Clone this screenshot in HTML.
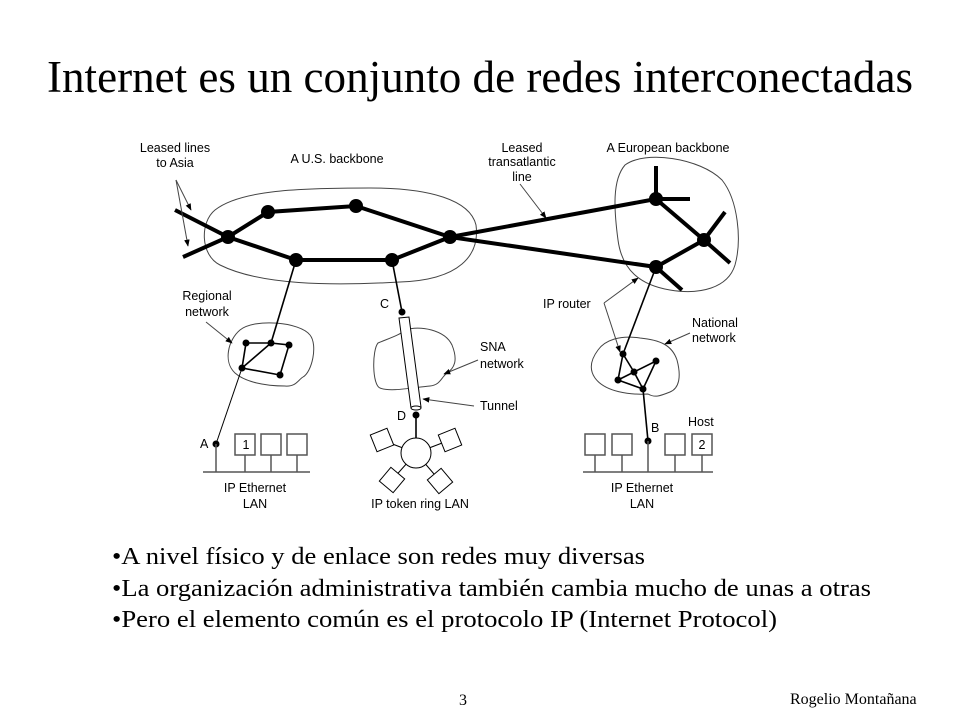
<!DOCTYPE html>
<html><head><meta charset="utf-8"><style>
html,body{margin:0;padding:0;background:#fff}
svg{display:block}
.s{font-family:"Liberation Sans",sans-serif;font-size:12.5px;fill:#000}
.t{font-family:"Liberation Serif","Times New Roman",serif;fill:#000}
</style></head><body>
<svg width="960" height="720" viewBox="0 0 960 720" xmlns="http://www.w3.org/2000/svg">
<defs>
<marker id="a" viewBox="0 0 10 10" refX="9" refY="5" markerWidth="7" markerHeight="7" orient="auto"><path d="M0,1 L10,5 L0,9 z" fill="#000"/></marker>
</defs>
<text class="t" x="47" y="92" font-size="45" textLength="866" lengthAdjust="spacingAndGlyphs">Internet es un conjunto de redes interconectadas</text>

<g fill="none" stroke="#444" stroke-width="1">
<path d="M215,210 C240,190 300,188 370,188 C430,188 470,200 476,225 C480,255 460,280 400,282 C330,286 260,285 220,265 C200,255 200,222 215,210 Z"/>
<path d="M625,165 C645,150 700,158 722,180 C738,200 742,240 735,265 C728,288 700,295 670,290 C640,285 622,270 618,240 C614,210 612,180 625,165 Z"/>
<path d="M240,330 C255,318 300,322 310,335 C318,345 312,372 303,377 C298,380 296,387 285,386 C265,386 245,382 235,373 C223,362 228,340 240,330 Z"/>
<path d="M378,343 C390,338 400,335 405,330 C420,325 445,330 452,345 C458,360 455,368 446,374 C441,378 440,385 430,386 C410,388 390,392 380,388 C372,385 372,350 378,343 Z"/>
<path d="M598,350 C605,340 620,335 640,338 C660,340 672,345 677,360 C681,375 680,388 670,392 C660,396 655,398 648,394 C630,395 605,392 595,378 C588,368 592,358 598,350 Z"/>
</g>

<g stroke="#000" stroke-width="4" fill="none" stroke-linecap="butt">
<polyline points="175,210 228,237 296,260 392,260 450,237 356,206 268,212 228,237 183,257"/>
<line x1="450" y1="237" x2="656" y2="199"/>
<line x1="450" y1="237" x2="656" y2="267"/>
<polyline points="656,199 704,240 656,267"/>
<line x1="656" y1="199" x2="656" y2="166"/>
<line x1="656" y1="199" x2="690" y2="199"/>
<line x1="704" y1="240" x2="725" y2="212"/>
<line x1="704" y1="240" x2="730" y2="263"/>
<line x1="656" y1="267" x2="682" y2="290"/>
</g>
<g fill="#000">
<circle cx="228" cy="237" r="7"/><circle cx="268" cy="212" r="7"/><circle cx="356" cy="206" r="7"/>
<circle cx="450" cy="237" r="7"/><circle cx="392" cy="260" r="7"/><circle cx="296" cy="260" r="7"/>
<circle cx="656" cy="199" r="7"/><circle cx="704" cy="240" r="7"/><circle cx="656" cy="267" r="7"/>
</g>

<g stroke="#000" stroke-width="1.6" fill="none">
<line x1="296" y1="260" x2="271" y2="343"/>
<polyline points="246,343 271,343 289,345 280,375 242,368 246,343"/>
<line x1="242" y1="368" x2="271" y2="343"/>
<line x1="392" y1="260" x2="402" y2="312"/>
<line x1="416" y1="415" x2="416" y2="438"/>
<line x1="656" y1="267" x2="623" y2="354"/>
<polyline points="623,354 618,380 643,389 656,361 634,372 623,354"/>
<line x1="618" y1="380" x2="634" y2="372"/>
<line x1="634" y1="372" x2="643" y2="389"/>
<line x1="643" y1="389" x2="648" y2="441"/>
</g>
<line x1="242" y1="368" x2="216" y2="444" stroke="#000" stroke-width="1"/>
<g fill="#000">
<circle cx="246" cy="343" r="3.5"/><circle cx="271" cy="343" r="3.5"/><circle cx="289" cy="345" r="3.5"/><circle cx="242" cy="368" r="3.5"/><circle cx="280" cy="375" r="3.5"/>
<circle cx="623" cy="354" r="3.5"/><circle cx="656" cy="361" r="3.5"/><circle cx="634" cy="372" r="3.5"/><circle cx="618" cy="380" r="3.5"/><circle cx="643" cy="389" r="3.5"/>
<circle cx="402" cy="312" r="3.5"/><circle cx="416" cy="415" r="3.5"/>
<circle cx="216" cy="444" r="3.5"/><circle cx="648" cy="441" r="3.5"/>
</g>

<g stroke="#000" stroke-width="1" fill="#fff">
<polygon points="399,318 409,317 421,407 411,408"/>
<ellipse cx="416" cy="408" rx="5" ry="2"/>
</g>

<g stroke="#000" stroke-width="1" fill="#fff">
<line x1="416" y1="453" x2="382" y2="440"/><line x1="416" y1="453" x2="450" y2="440"/>
<line x1="416" y1="453" x2="392" y2="480"/><line x1="416" y1="453" x2="440" y2="481"/>
<circle cx="416" cy="453" r="15"/>
<rect x="373" y="431" width="18" height="18" transform="rotate(-22 382 440)"/>
<rect x="441" y="431" width="18" height="18" transform="rotate(-22 450 440)"/>
<rect x="383" y="471" width="18" height="18" transform="rotate(40 392 480)"/>
<rect x="431" y="472" width="18" height="18" transform="rotate(-40 440 481)"/>
</g>

<g stroke="#555" stroke-width="1.5" fill="#fff">
<line x1="203" y1="472" x2="310" y2="472"/>
<line x1="216" y1="444" x2="216" y2="472"/><line x1="245" y1="455" x2="245" y2="472"/><line x1="271" y1="455" x2="271" y2="472"/><line x1="297" y1="455" x2="297" y2="472"/>
<rect x="235" y="434" width="20" height="21"/><rect x="261" y="434" width="20" height="21"/><rect x="287" y="434" width="20" height="21"/>
<line x1="583" y1="472" x2="713" y2="472"/>
<line x1="595" y1="455" x2="595" y2="472"/><line x1="622" y1="455" x2="622" y2="472"/><line x1="648" y1="441" x2="648" y2="472"/><line x1="675" y1="455" x2="675" y2="472"/><line x1="702" y1="455" x2="702" y2="472"/>
<rect x="585" y="434" width="20" height="21"/><rect x="612" y="434" width="20" height="21"/><rect x="665" y="434" width="20" height="21"/><rect x="692" y="434" width="20" height="21"/>
</g>

<g stroke="#444" stroke-width="1" fill="none" marker-end="url(#a)">
<line x1="176" y1="180" x2="191" y2="210"/>
<line x1="176" y1="180" x2="188" y2="246"/>
<line x1="520" y1="184" x2="546" y2="218"/>
<line x1="206" y1="322" x2="232" y2="343"/>
<line x1="478" y1="360" x2="444" y2="374"/>
<line x1="474" y1="406" x2="423" y2="399"/>
<line x1="604" y1="303" x2="638" y2="278"/>
<line x1="604" y1="303" x2="620" y2="352"/>
<line x1="690" y1="333" x2="665" y2="344"/>
</g>

<g class="s">
<text x="175" y="152" text-anchor="middle">Leased lines</text>
<text x="175" y="167" text-anchor="middle">to Asia</text>
<text x="337" y="163" text-anchor="middle">A U.S. backbone</text>
<text x="522" y="152" text-anchor="middle">Leased</text>
<text x="522" y="166" text-anchor="middle">transatlantic</text>
<text x="522" y="181" text-anchor="middle">line</text>
<text x="668" y="152" text-anchor="middle">A European backbone</text>
<text x="207" y="300" text-anchor="middle">Regional</text>
<text x="207" y="316" text-anchor="middle">network</text>
<text x="380" y="308">C</text>
<text x="480" y="351">SNA</text>
<text x="480" y="368">network</text>
<text x="480" y="410">Tunnel</text>
<text x="397" y="420">D</text>
<text x="200" y="448">A</text>
<text x="246" y="449" text-anchor="middle">1</text>
<text x="702" y="449" text-anchor="middle">2</text>
<text x="255" y="492" text-anchor="middle">IP Ethernet</text>
<text x="255" y="508" text-anchor="middle">LAN</text>
<text x="420" y="508" text-anchor="middle">IP token ring LAN</text>
<text x="543" y="308">IP router</text>
<text x="692" y="327">National</text>
<text x="692" y="342">network</text>
<text x="688" y="426">Host</text>
<text x="651" y="432">B</text>
<text x="642" y="492" text-anchor="middle">IP Ethernet</text>
<text x="642" y="508" text-anchor="middle">LAN</text>
</g>

<text class="t" x="112" y="564" font-size="24" textLength="533" lengthAdjust="spacingAndGlyphs">•A nivel físico y de enlace son redes muy diversas</text>
<text class="t" x="112" y="596" font-size="24" textLength="759" lengthAdjust="spacingAndGlyphs">•La organización administrativa también cambia mucho de unas a otras</text>
<text class="t" x="112" y="627" font-size="24" textLength="665" lengthAdjust="spacingAndGlyphs">•Pero el elemento común es el protocolo IP (Internet Protocol)</text>
<text class="t" x="463" y="705" font-size="16" text-anchor="middle">3</text>
<text class="t" x="790" y="704" font-size="16">Rogelio Montañana</text>
</svg>
</body></html>
